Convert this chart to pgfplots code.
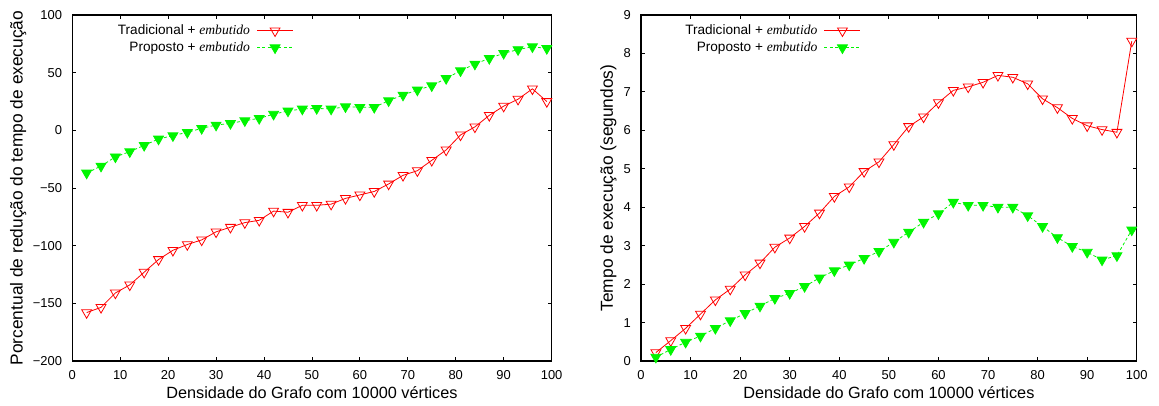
\documentclass[border=0pt]{standalone}
\usepackage{fontspec}
\setmainfont{Liberation Sans}
\newfontfamily\timesit{Liberation Serif}
\usepackage{pgfplots}
\pgfplotsset{compat=1.18}
\definecolor{gred}{RGB}{255,0,0}
\definecolor{ggreen}{RGB}{0,245,0}
\newcommand{\lgf}{\fontsize{10.2}{12}\selectfont}
\pgfplotsset{
  gp/.style={
    scale only axis,
    anchor=south west,
    xmin=0, xmax=100,
    xtick={0,10,...,100},
    tick align=inside,
    xtick pos=both, ytick pos=both,
    xticklabel pos=left, yticklabel pos=left,
    major tick length=3pt,
    tick style={black, line width=0.6pt},
    axis line style={black, line width=0.9pt},
    clip=false,
    /pgf/number format/assume math mode=true,
    tick label style={font=\fontsize{9.7}{11}\selectfont},
    every x tick label/.append style={inner sep=0pt, anchor=north, yshift=-6.8pt},
    every y tick label/.append style={inner sep=0pt, anchor=east, xshift=-7.5pt},
    every axis x label/.style={at={(rel axis cs:0.5,0)}, anchor=center, yshift=-23.5pt, font=\fontsize{12.2}{14}\selectfont},
    legend plot pos=right,
    legend cell align=right,
    every axis legend/.append style={font=\lgf},
    legend style={draw=none, fill=none, anchor=north east, font=\lgf,
      inner sep=0pt, row sep=0pt, column sep=3pt, nodes={inner sep=2pt}},
    legend image code/.code={\draw[mark repeat=2,mark phase=2,##1] plot coordinates {(0pt,0pt) (13.5pt,0pt) (27pt,0pt)};},
  },
  redser/.style={color=gred, line width=0.6pt, mark=triangle, mark size=4.3pt,
    mark options={rotate=180, solid, draw=gred, fill=white, line width=0.6pt}},
  greenser/.style={color=ggreen, line width=0.6pt, dash pattern=on 2.2pt off 1.8pt, mark=triangle*, mark size=4.3pt,
    mark options={rotate=180, solid, draw=ggreen, fill=ggreen}},
}
\begin{document}
\begin{tikzpicture}
\useasboundingbox (0,0) rectangle (869.25pt,303.75pt);
% Left
\begin{axis}[gp,
  at={(54.2pt,33pt)}, width=359.5pt, height=259.5pt,
  ymin=-200, ymax=100,
  ytick={-200,-150,...,100},
  yticklabels={−200,−150,−100,−50,0,50,100},
  xlabel={Densidade do Grafo com 10000 vértices},
  ylabel={Porcentual de redução do tempo de execução},
  every axis y label/.style={at={(rel axis cs:0,0.5)}, rotate=90, anchor=center, yshift=40.5pt, font=\fontsize{13}{15}\selectfont},
  legend style={at={(rel axis cs:0.462,0.98)}},
]
\addplot[redser] coordinates {
(3,-158) (6,-153.5) (9,-141) (12,-134) (15,-123) (18,-112) (21,-104) (24,-99) (27,-95) (30,-88) (33,-84) (36,-80) (39,-78) (42,-70) (45,-71) (48,-65) (51,-65) (54,-64) (57,-59) (60,-56) (63,-53) (66,-46.5) (69,-39) (72,-35) (75,-26) (78,-17) (81,-4) (84,3) (87,13) (90,21) (93,27) (96,36) (99,25)};
\addlegendentry{\lgf Tradicional + {\timesit\itshape embutido}}
\addplot[greenser] coordinates {
(3,-37) (6,-31) (9,-23) (12,-18.5) (15,-13) (18,-7.5) (21,-4.6) (24,-1.7) (27,1.7) (30,4.6) (33,6) (36,8.4) (39,10.4) (42,14) (45,16.8) (48,18.5) (51,19) (54,18.5) (57,20.5) (60,20) (63,20) (66,25.7) (69,30.6) (72,35) (75,38.7) (78,45) (81,51.7) (84,57.5) (87,62.4) (90,66.8) (93,70) (96,72.5) (99,71)};
\addlegendentry{\lgf Proposto + {\timesit\itshape embutido}}
\end{axis}
% Right
\begin{axis}[gp,
  at={(480.75pt,33pt)}, width=371.8pt, height=259.5pt,
  ymin=0, ymax=9,
  ytick={0,1,...,9},
  xlabel={Densidade do Grafo com 10000 vértices},
  ylabel={Tempo de execução (segundos)},
  every axis y label/.style={at={(rel axis cs:0,0.5)}, rotate=90, anchor=center, yshift=24.5pt, font=\fontsize{13}{15}\selectfont},
  legend style={at={(rel axis cs:0.444,0.98)}},
]
\addplot[redser] coordinates {
(3,0.22) (6,0.53) (9,0.85) (12,1.22) (15,1.59) (18,1.87) (21,2.24) (24,2.55) (27,2.96) (30,3.2) (33,3.5) (36,3.85) (39,4.28) (42,4.53) (45,4.93) (48,5.18) (51,5.63) (54,6.1) (57,6.35) (60,6.72) (63,7.04) (66,7.13) (69,7.25) (72,7.43) (75,7.38) (78,7.21) (81,6.82) (84,6.59) (87,6.31) (90,6.12) (93,6.02) (96,5.95) (99,8.32)};
\addlegendentry{\lgf Tradicional + {\timesit\itshape embutido}}
\addplot[greenser] coordinates {
(3,0.1) (6,0.3) (9,0.49) (12,0.65) (15,0.85) (18,1.05) (21,1.24) (24,1.43) (27,1.63) (30,1.76) (33,1.94) (36,2.16) (39,2.35) (42,2.5) (45,2.67) (48,2.85) (51,3.09) (54,3.35) (57,3.61) (60,3.83) (63,4.13) (66,4.05) (69,4.05) (72,4.0) (75,4.0) (78,3.78) (81,3.5) (84,3.21) (87,2.98) (90,2.83) (93,2.63) (96,2.74) (99,3.41)};
\addlegendentry{\lgf Proposto + {\timesit\itshape embutido}}
\end{axis}
\end{tikzpicture}
\end{document}
